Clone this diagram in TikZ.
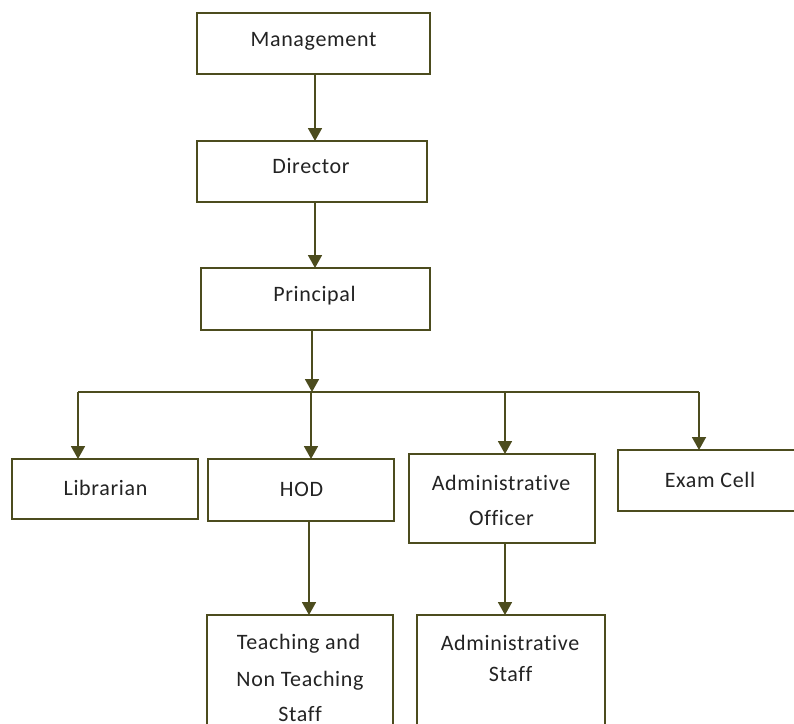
\documentclass[tikz,border=0pt]{standalone}
\usepackage{fontspec}
\setmainfont{Carlito}[LetterSpace=3,Ligatures=NoCommon]
\usetikzlibrary{arrows.meta}
\definecolor{linec}{RGB}{76,76,30}
\definecolor{txtc}{RGB}{35,35,35}
\tikzset{
  box/.style={draw=linec, line width=1.8pt, fill=white, inner sep=0pt, outer sep=0pt},
  lbl/.style={text=txtc, font=\fontsize{22}{26}\selectfont, inner sep=0pt, anchor=base},
  arr/.style={draw=linec, line width=1.8pt, -{Triangle[width=14pt,length=13pt]}},
  ln/.style={draw=linec, line width=1.8pt}
}
\begin{document}
\begin{tikzpicture}[x=1pt,y=-1pt]
\useasboundingbox (0,0) rectangle (794,723);
\clip (0,0) rectangle (794,723);
% boxes
\node[box, minimum width=233pt, minimum height=61pt] (mgt) at (313.5,43.5) {};
\node[box, minimum width=230pt, minimum height=61pt] (dir) at (312,171.5) {};
\node[box, minimum width=229pt, minimum height=62pt] (pri) at (315.5,299) {};
\node[box, minimum width=186pt, minimum height=60pt] (lib) at (105,489) {};
\node[box, minimum width=186pt, minimum height=62pt] (hod) at (301,490) {};
\node[box, minimum width=186pt, minimum height=89pt] (ao) at (502,498.5) {};
\node[box, minimum width=202pt, minimum height=61pt] (exam) at (719,480.5) {};
\node[box, minimum width=186pt, minimum height=145pt] (teach) at (300,687.5) {};
\node[box, minimum width=188pt, minimum height=145pt] (astaff) at (511,687.5) {};
% labels
\node[lbl] (t-mgt) at (313.5,46) {Management};
\node[lbl] (t-dir) at (311,173) {Director};
\node[lbl] (t-pri) at (314.5,301) {Principal};
\node[lbl] (t-lib) at (105.5,495) {Librarian};
\node[lbl] (t-hod) at (301.5,496) {HOD};
\node[lbl] (t-ao1) at (501,490) {Administrative};
\node[lbl] (t-ao2) at (501.5,525) {Officer};
\node[lbl] (t-exam) at (710,487) {Exam Cell};
\node[lbl] (t-te1) at (298.5,649) {Teaching and};
\node[lbl] (t-te2) at (300,686) {Non Teaching};
\node[lbl] (t-te3) at (300,721) {Staff};
\node[lbl] (t-as1) at (510,650) {Administrative};
\node[lbl] (t-as2) at (510.5,681) {Staff};
% coordinates
\coordinate (x1) at (315,0);
\coordinate (x2) at (312,0);
\coordinate (busL) at (78,392);
\coordinate (busR) at (699,392);
\coordinate (busHod) at (311,392);
\coordinate (busAo) at (505,392);
\coordinate (x3) at (309,0);
\coordinate (x4) at (505,0);
% connectors
\draw[arr] (mgt.south -| x1) -- (dir.north -| x1);
\draw[arr] (dir.south -| x1) -- (pri.north -| x1);
\draw[ln] (busL) -- (busR);
\draw[arr] (pri.south -| x2) -- (busL -| x2);
\draw[arr] (busL) -- (lib.north -| busL);
\draw[arr] (busHod) -- (hod.north -| busHod);
\draw[arr] (busAo) -- (ao.north -| busAo);
\draw[arr] (busR) -- (exam.north -| busR);
\draw[arr] (hod.south -| x3) -- (teach.north -| x3);
\draw[arr] (ao.south -| x4) -- (astaff.north -| x4);
\end{tikzpicture}
\end{document}
